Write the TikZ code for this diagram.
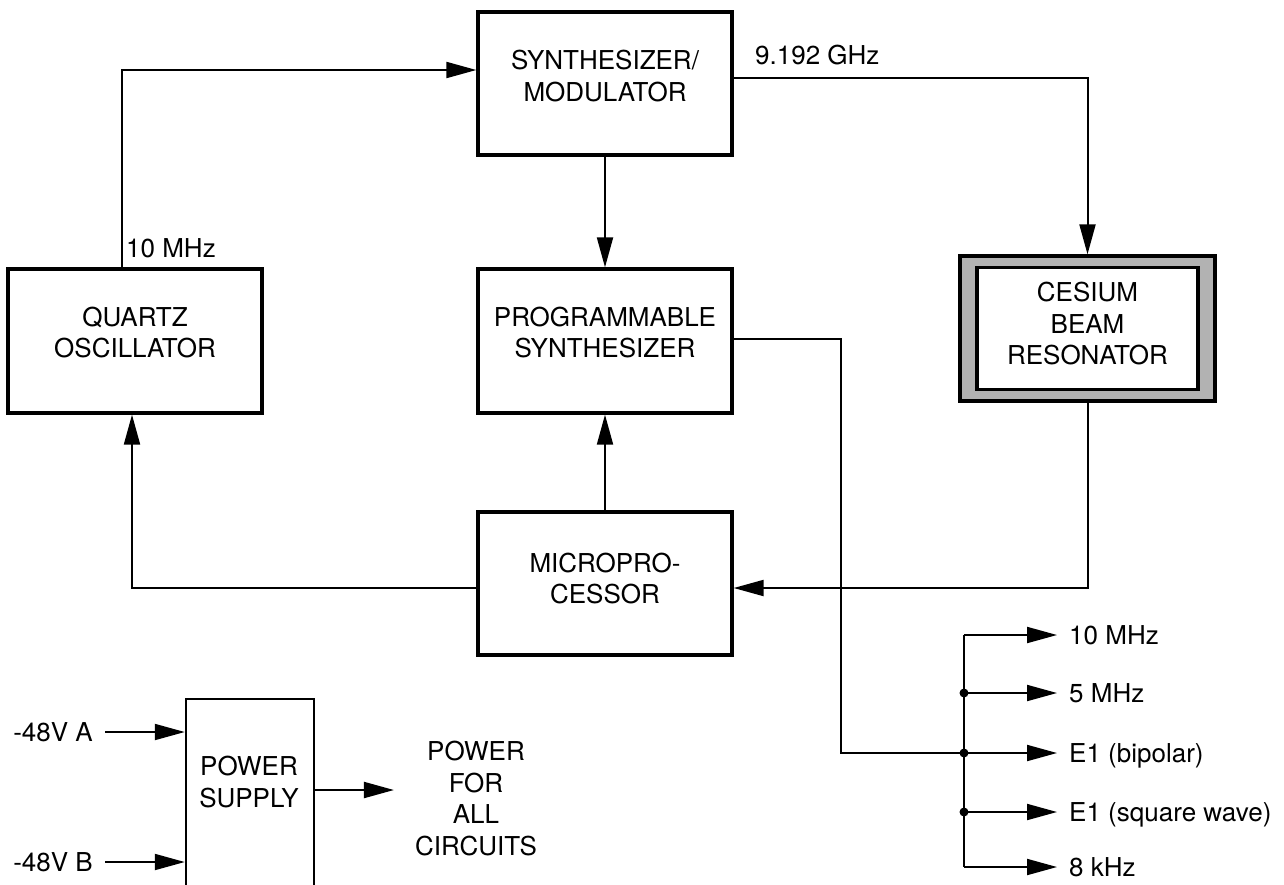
\documentclass[tikz,border=0pt]{standalone}
\usepackage{fontspec}
\setmainfont{TeX Gyre Heros}
\usetikzlibrary{arrows.meta}
\definecolor{rimgray}{gray}{0.7}

\begin{document}
\begin{tikzpicture}[
    x=1pt, y=-1pt, >={Triangle[length=30pt,width=16pt]},
    conn/.style={line width=2pt},
    box/.style={draw, line width=3.3pt, minimum width=254pt, minimum height=144pt},
    txt/.style={align=center, inner sep=0pt, font=\fontsize{26}{31.5}\selectfont},
    lbl/.style={inner sep=0pt, text height=18.5pt, text depth=0pt, font=\fontsize{26}{31.5}\selectfont},
    dot/.style={circle, fill, inner sep=0pt, minimum size=9pt}
  ]
    \path[use as bounding box] (0,0) rectangle (1284,884);
    \clip (0,0) rectangle (1284,884);

    % blocks
    \node[box, minimum height=143pt] (synth) at (605,83.5) {};
    \node[box] (quartz) at (135,341) {};
    \node[box] (prog) at (605,341) {};
    \node[box, minimum height=143pt] (micro) at (605,583.5) {};
    \node[box, fill=rimgray, minimum width=255pt, minimum height=145pt] (cesium) at (1087.5,328.5) {};
    \node[box, fill=white, minimum width=221pt, minimum height=122pt] (cesin) at (cesium.center) {};
    \node[draw, line width=2.5pt, minimum width=128pt, minimum height=240pt] (psu) at (250,819) {};

    \node[txt] (synth-t) at (605,76) {SYNTHESIZER/\\MODULATOR};
    \node[txt] (quartz-t) at (135,332.5) {QUARTZ\\OSCILLATOR};
    \node[txt] (prog-t) at (605,332.5) {PROGRAMMABLE\\SYNTHESIZER};
    \node[txt] (micro-t) at (605,578.5) {MICROPRO-\\CESSOR};
    \node[txt] (cesium-t) at (1087.5,324) {CESIUM\\BEAM\\RESONATOR};
    \node[txt] (psu-t) at (249,782) {POWER\\SUPPLY};
    \node[txt, inner xsep=21pt] (pwr) at (476,798.5) {POWER\\FOR\\ALL\\CIRCUITS};

    % signal labels
    \node[lbl, anchor=west] (f10) at (126,248) {10 MHz};
    \node[lbl, anchor=west] (ghz) at (755,55) {9.192 GHz};
    \node[lbl, anchor=east, inner xsep=12pt] (va) at (105,732) {-48V A};
    \node[lbl, anchor=east, inner xsep=12pt] (vb) at (105,862) {-48V B};

    % loop
    \draw[conn,->] ([xshift=-13pt]quartz.north) |- ([yshift=13.5pt]synth.west);
    \draw[conn,->] (synth) -- (prog);
    \draw[conn,->] ([yshift=5.5pt]synth.east) -| (cesium.north);
    \draw[conn,->] (cesium.south) |- ([yshift=-4.5pt]micro.east);
    \draw[conn,->] ([yshift=-4.5pt]micro.west) -| ([xshift=-3pt]quartz.south);
    \draw[conn,->] (micro) -- (prog);

    % outputs
    \foreach \y/\sig [count=\i] in {635/10 MHz, 693/5 MHz, 753/E1 (bipolar), 812/E1 (square wave), 867/8 kHz} {
      \coordinate (b\i) at (964,\y);
      \node[lbl, anchor=west, inner xsep=12pt] (o\i) at (1057,\y) {\sig};
      \draw[conn,->] (b\i) -- (o\i);
    }
    \draw[conn] (b1) -- (b5);
    \foreach \i in {2,3,4} \node[dot] at (b\i) {};
    \draw[conn] ([yshift=2pt]prog.east) -| ([xshift=-123pt]b3) -- (b3);

    % power
    \draw[conn,->] (va) -- (va -| psu.west);
    \draw[conn,->] (vb) -- (vb -| psu.west);
    \coordinate (psout) at ([yshift=29pt]psu.east);
    \draw[conn,->] (psout) -- (psout -| pwr.west);
\end{tikzpicture}
\end{document}
